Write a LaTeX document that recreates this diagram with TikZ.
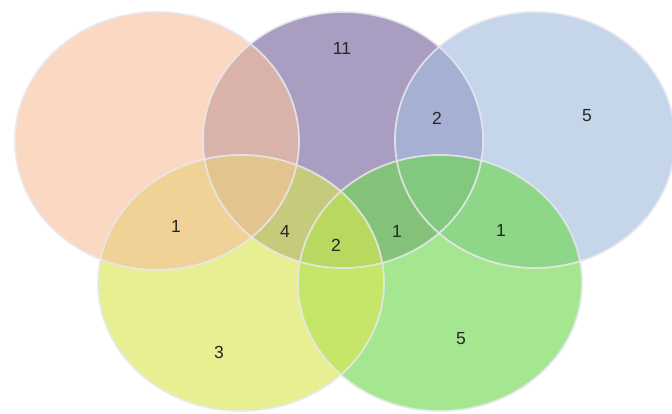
\documentclass[tikz,border=0pt]{standalone}
\usepackage{fontspec}
\setmainfont{Liberation Sans}
\definecolor{corange}{RGB}{247,193,155}
\definecolor{cpurple}{RGB}{117,100,157}
\definecolor{cblue}{RGB}{163,188,222}
\definecolor{cyellow}{RGB}{217,230,80}
\definecolor{cgreen}{RGB}{110,217,77}
\definecolor{cedge}{RGB}{232,232,238}
\tikzset{
  setfill/.style={fill opacity=0.62},
  setedge/.style={draw=cedge, line width=1.8pt, draw opacity=0.85},
  num/.style={font=\fontsize{17.5}{17.5}\selectfont, text=black!85}
}
\begin{document}
\begin{tikzpicture}[x=1pt,y=-1pt]
\useasboundingbox (0,0) rectangle (672,414);
\fill[white] (0,0) rectangle (672,414);
% circle centres
\coordinate (cP) at (343,140);
\coordinate (cO) at (157,141);
\coordinate (cB) at (535,140);
\coordinate (cG) at (440,283);
\coordinate (cY) at (241,283);
% fills
\fill[setfill, cpurple] (cP) ellipse [x radius=140, y radius=128];
\fill[setfill, cblue] (cB) ellipse [x radius=140, y radius=128];
\fill[setfill, cgreen] (cG) ellipse [x radius=142, y radius=128];
\fill[setfill, cyellow] (cY) ellipse [x radius=143, y radius=128];
\fill[setfill, corange] (cO) ellipse [x radius=142, y radius=129];
% outlines
\draw[setedge] (cP) ellipse [x radius=140, y radius=128];
\draw[setedge] (cB) ellipse [x radius=140, y radius=128];
\draw[setedge] (cG) ellipse [x radius=142, y radius=128];
\draw[setedge] (cY) ellipse [x radius=143, y radius=128];
\draw[setedge] (cO) ellipse [x radius=142, y radius=129];
% labels
\node[num] (n11) at (342,48) {11};
\node[num] (n2a) at (437,118) {2};
\node[num] (n5a) at (587,116) {5};
\node[num] (n1a) at (176,226) {1};
\node[num] (n4) at (285,231) {4};
\node[num] (n2b) at (336,245) {2};
\node[num] (n1b) at (397,231) {1};
\node[num] (n1c) at (501,230) {1};
\node[num] (n3) at (219,352) {3};
\node[num] (n5b) at (461,339) {5};
\end{tikzpicture}
\end{document}
